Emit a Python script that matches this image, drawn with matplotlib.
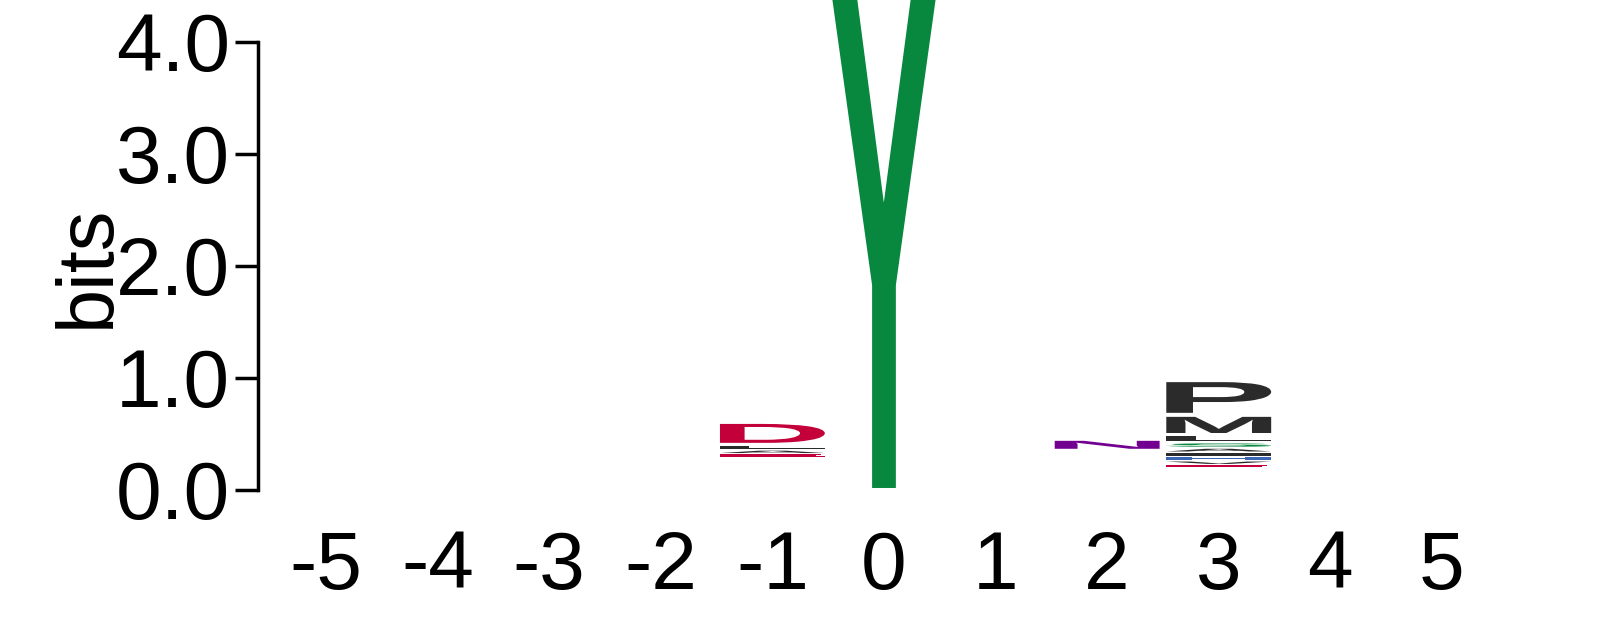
import matplotlib
matplotlib.use("Agg")
import matplotlib.pyplot as plt
from matplotlib.textpath import TextPath
from matplotlib.patches import PathPatch
from matplotlib.font_manager import FontProperties
from matplotlib.transforms import Affine2D

plt.rcParams['font.family'] = ['Liberation Sans', 'DejaVu Sans']
plt.rcParams['axes.unicode_minus'] = False

# Positions of the logo
positions = [-5, -4, -3, -2, -1, 0, 1, 2, 3, 4, 5]

# Letters of each stack, bottom to top, with their heights (bits)
stack_letters = {
    -1: ['E', 'A', 'L', 'D'],
    0: ['Y'],
    2: ['N'],
    3: ['E', 'V', 'H', 'I', 'A', 'S', 'L', 'M', 'P'],
}
stack_heights = {
    -1: [0.03, 0.035, 0.045, 0.205],
    0: [4.45],
    2: [0.107],
    3: [0.03, 0.035, 0.04, 0.035, 0.04, 0.05, 0.065, 0.18, 0.31],
}
# Where each stack starts (bits)
stack_base = {-1: 0.293, 0: 0.0, 2: 0.35, 3: 0.196}

# Chemistry colour scheme
colors = {
    'Y': '#08873F', 'S': '#08873F', 'T': '#08873F', 'G': '#08873F', 'C': '#08873F',
    'N': '#720090', 'Q': '#720090',
    'K': '#3A66B5', 'R': '#3A66B5', 'H': '#3A66B5',
    'D': '#C4003A', 'E': '#C4003A',
    'A': '#2B2B2B', 'V': '#2B2B2B', 'L': '#2B2B2B', 'I': '#2B2B2B',
    'P': '#2B2B2B', 'W': '#2B2B2B', 'F': '#2B2B2B', 'M': '#2B2B2B',
}

fp = FontProperties(family='Liberation Sans', weight='bold')


def draw_letter(ax, letter, x, y, width, height, color):
    # small gap above and below the glyph inside its box
    pad = min(0.018, height * 0.2)
    tp = TextPath((0, 0), letter, size=1, prop=fp)
    ext = tp.get_extents()
    h = height - 2 * pad
    t = (Affine2D()
         .translate(-ext.x0, -ext.y0)
         .scale(width / ext.width, h / ext.height)
         .translate(x - width / 2, y + pad))
    path = t.transform_path(tp)
    ax.add_patch(PathPatch(path, facecolor=color, edgecolor='none', lw=0))


fig = plt.figure(figsize=(15.97, 6.25), dpi=100)
ax = fig.add_axes([258 / 1597, 135 / 625, 1 - 258 / 1597, 490 / 625])

col_width = 0.94
for pos in positions:
    if pos not in stack_letters:
        continue
    y = stack_base[pos]
    for letter, h in zip(stack_letters[pos], stack_heights[pos]):
        draw_letter(ax, letter, pos, y, col_width, h, colors[letter])
        y += h

ax.set_xlim(-5.61, 6.39)
ax.set_ylim(0, 4.375)

for s in ['top', 'right', 'bottom']:
    ax.spines[s].set_visible(False)
ax.spines['left'].set_bounds(0, 4)
ax.spines['left'].set_linewidth(2.5)

ax.set_yticks([0, 1, 2, 3, 4])
ax.set_yticklabels(['0.0', '1.0', '2.0', '3.0', '4.0'])
ax.set_xticks(positions)
ax.set_xticklabels([str(p) for p in positions])
ax.tick_params(axis='y', length=16.5, width=2.5, pad=3.5, labelsize=59)
ax.tick_params(axis='x', length=0, pad=28.5, labelsize=59)

fig.text(88 / 1597, 1 - 266 / 625, 'bits', rotation=90, ha='center', va='center',
         fontsize=57)

fig.savefig('out.png', dpi=100)
